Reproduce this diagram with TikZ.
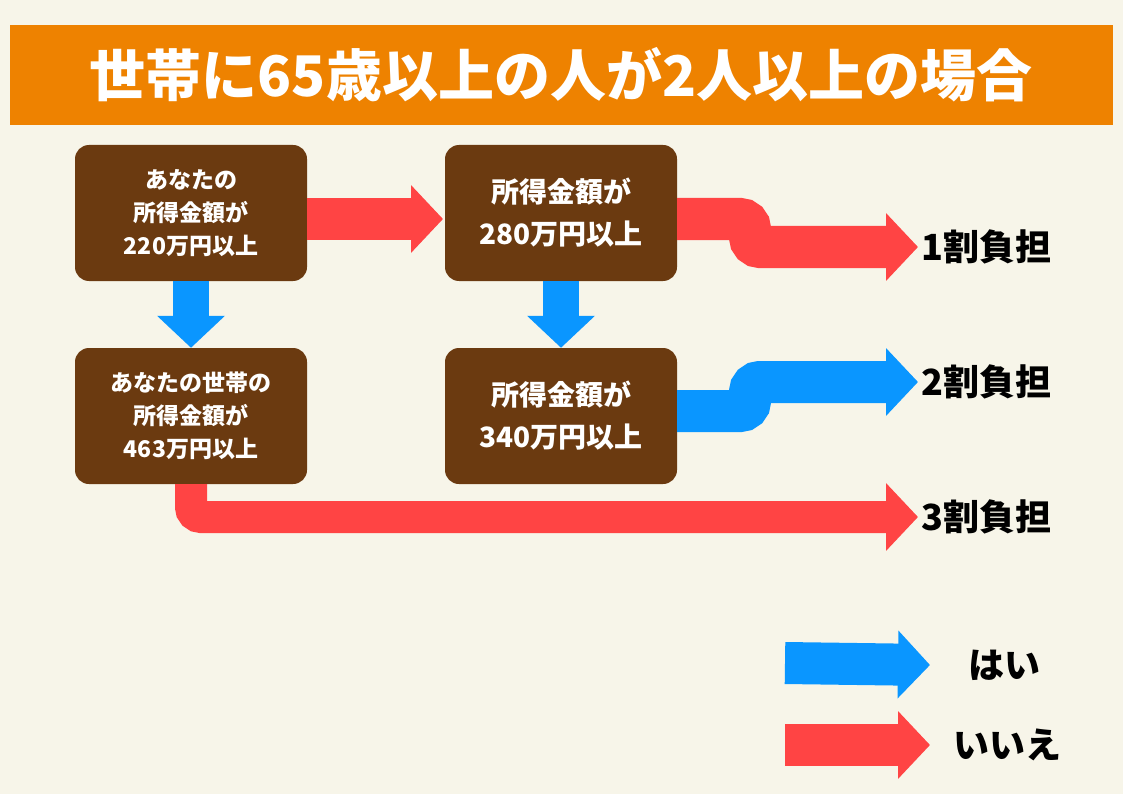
\documentclass[tikz,border=0pt]{standalone}
\usepackage{fontspec}
\setmainfont{Noto Sans CJK JP}
\usetikzlibrary{arrows.meta,positioning}
\definecolor{bg}{HTML}{F7F5E9}
\definecolor{bar}{HTML}{EE8200}
\definecolor{brown}{HTML}{6B3A10}
\definecolor{no}{HTML}{FF4444}
\definecolor{yes}{HTML}{0A96FF}
\tikzset{
  box/.style={fill=brown,rounded corners=14pt,minimum width=232pt,text=white,
    font=\bfseries,align=center},
  fat/.style={line width=42pt,rounded corners=10pt,-{Triangle[width=66pt,length=32pt]}},
  res/.style={anchor=west,font=\fontsize{36pt}{40pt}\bfseries\selectfont},
}
\begin{document}
\begin{tikzpicture}[x=1pt,y=-1pt]
  % background and title
  \fill[bg] (0,0) rectangle (1123,794);
  \fill[bar] (10,25) rectangle (1113,125);
  \node[text=white,font=\fontsize{56pt}{60pt}\bfseries\selectfont] (title) at (561,75) {世帯に65歳以上の人が2人以上の場合};

  % boxes
  \node[box,minimum height=136pt,font=\fontsize{23pt}{33pt}\bfseries\selectfont] (b1) at (191,213) {あなたの\\所得金額が\\220万円以上};
  \node[box,minimum height=136pt,font=\fontsize{28pt}{42pt}\bfseries\selectfont] (b2) at (561,213) {所得金額が\\280万円以上};
  \node[box,minimum height=136pt,font=\fontsize{23pt}{33pt}\bfseries\selectfont] (b3) at (191,416) {あなたの世帯の\\所得金額が\\463万円以上};
  \node[box,minimum height=136pt,font=\fontsize{28pt}{42pt}\bfseries\selectfont] (b4) at (561,416) {所得金額が\\340万円以上};

  % results
  \node[res] (r1) at (918,247) {1割負担};
  \node[res] (r2) at (918,382) {2割負担};
  \node[res] (r3) at (918,517) {3割負担};
  \node[res] (yl) at (965,665) {はい};
  \node[res] (nl) at (950,745) {いいえ};
  \coordinate (ya) at (785,663);
  \coordinate (na) at (785,745);

  % arrows
  \draw[fat,no] (b1.east |- 0,219) -- (443,219);
  \draw[fat,yes,line width=36pt] (b1.south) -- (b3.north);
  \draw[fat,yes,line width=36pt] (b2.south) -- (b4.north);
  \draw[fat,no] (b2.east |- 0,219) -- (750,219) -- (750,247) -- (r1.west);
  \draw[fat,yes] (b4.east |- 0,411) -- (750,411) -- (750,382) -- (r2.west);
  \draw[fat,no,line width=32pt] (191,484) -- (191,517) -- (r3.west);
  \draw[fat,yes] (ya) -- ([xshift=-35pt]yl.west);
  \draw[fat,no] (na) -- ([xshift=-20pt]nl.west);
\end{tikzpicture}
\end{document}
